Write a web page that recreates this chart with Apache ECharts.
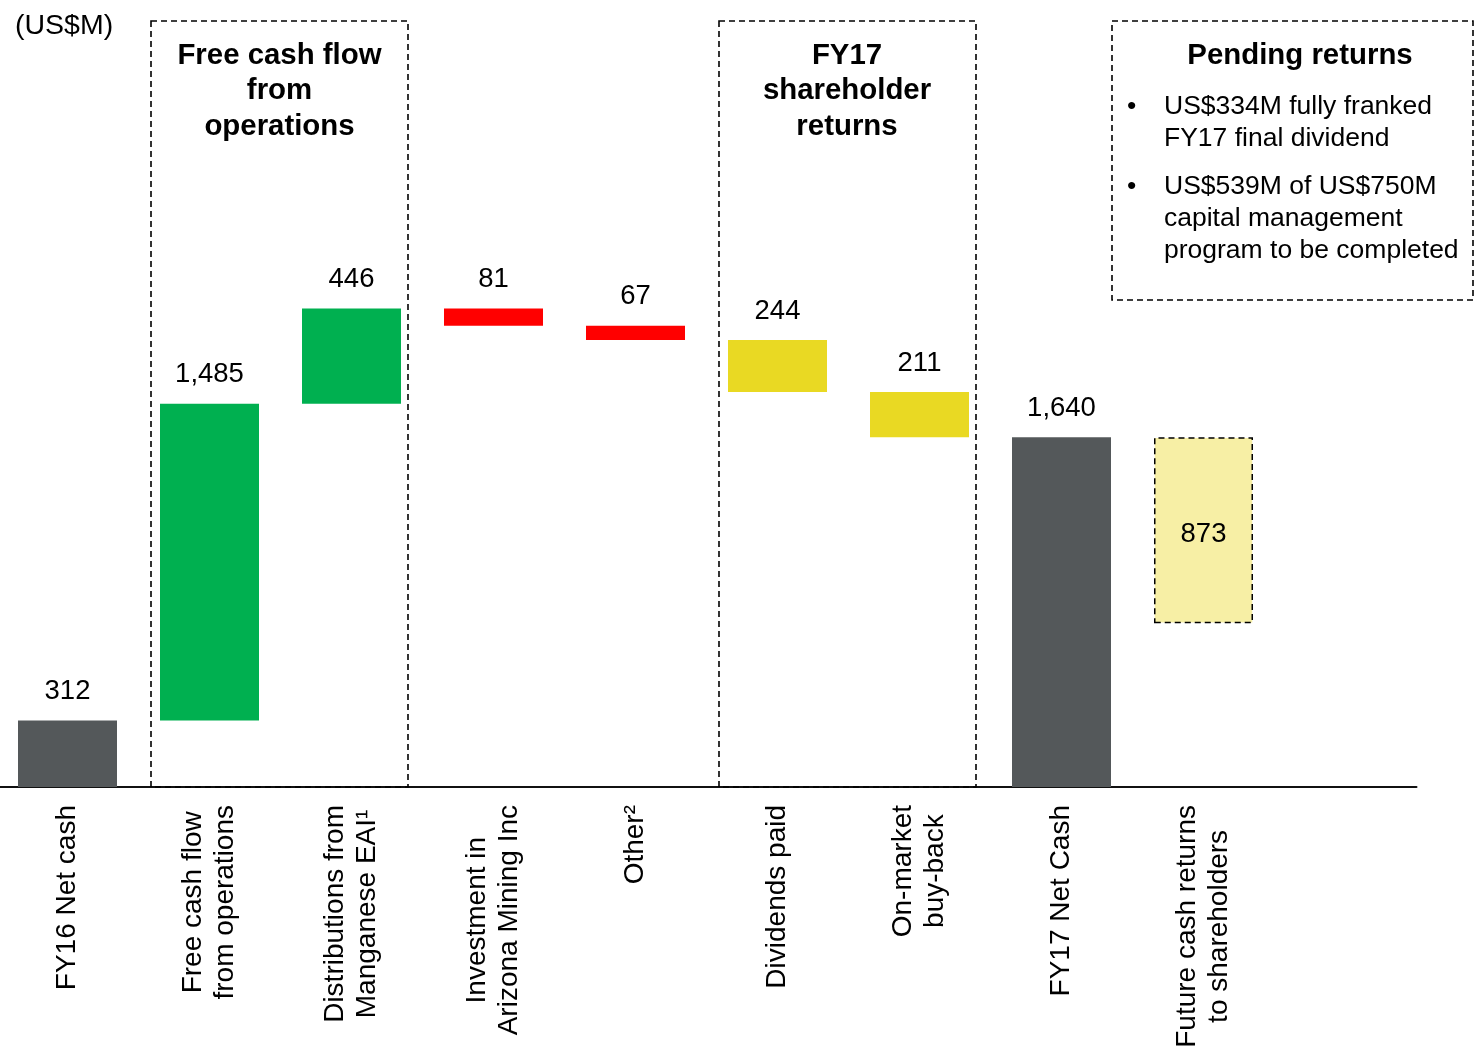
<!DOCTYPE html>
<html>
<head>
<meta charset="utf-8">
<script src="https://cdn.jsdelivr.net/npm/echarts@6/dist/echarts.min.js"></script>
<style>
html,body{margin:0;padding:0;background:#fff;overflow:hidden;}
#chart{position:relative;left:-4px;width:1482px;height:1047px;}
</style>
</head>
<body>
<div id="chart"></div>
<script>
// ---- data ----
const categories = [
  'FY16 Net cash',
  'Free cash flow\nfrom operations',
  'Distributions from\nManganese EAI¹',
  'Investment in\nArizona Mining Inc',
  'Other²',
  'Dividends paid',
  'On-market\nbuy-back',
  'FY17 Net Cash',
  'Future cash returns\nto shareholders',
  ''
];
const changes = [312, 1485, 446, -81, -67, -244, -211, 1640, 873];
const kinds = ['total', 'step', 'step', 'step', 'step', 'step', 'step', 'total', 'pending'];
const groups = ['net', 'fcf', 'fcf', 'other', 'other', 'returns', 'returns', 'net', 'pending'];
const unitLabel = '(US$M)';
const boxTitles = {
  fcf: 'Free cash flow\nfrom\noperations',
  returns: 'FY17\nshareholder\nreturns',
  pending: 'Pending returns'
};
const pendingBullets = [
  'US$334M fully franked\nFY17 final dividend',
  'US$539M of US$750M\ncapital management\nprogram to be completed'
];

// ---- styles ----
const FONT = "'Liberation Sans', Arial, Helvetica, sans-serif";
const SHIFT = 4; // canvas is offset 4px to the left via CSS
const groupColor = {
  net: '#54585A',
  fcf: '#00B050',
  other: '#FF0000',
  returns: '#E9D923',
  pending: '#F7EFA5'
};

// ---- waterfall build ----
const baseVals = [];
const shownVals = [];
let running = 0;
changes.forEach((v, i) => {
  const k = kinds[i];
  if (k === 'total') {
    baseVals.push(0);
    shownVals.push(Math.abs(v));
    running = v;
  } else if (k === 'pending') {
    baseVals.push(running - v);
    shownVals.push(v);
  } else {
    if (v >= 0) { baseVals.push(running); } else { baseVals.push(running + v); }
    shownVals.push(Math.abs(v));
    running += v;
  }
});

const fmt = n => n.toLocaleString('en-US');

const visibleData = shownVals.map((v, i) => {
  const g = groups[i];
  const item = {
    value: v,
    itemStyle: { color: groupColor[g] }
  };
  if (kinds[i] === 'pending') {
    item.itemStyle.borderColor = '#000';
    item.itemStyle.borderWidth = 1.5;
    item.itemStyle.borderType = [6, 4];
    item.label = { position: 'inside', distance: 0, offset: [0, 4] };
  }
  return item;
});

const chart = echarts.init(document.getElementById('chart'), null, { renderer: 'canvas' });

const dash = [6, 4];
function box(x, y, w, h) {
  return {
    type: 'rect',
    shape: { x: x + SHIFT, y: y, width: w, height: h },
    style: { fill: 'none', stroke: '#000', lineWidth: 1.6, lineDash: dash },
    z: 1
  };
}
function txt(x, y, text, opts) {
  return {
    type: 'text',
    x: x + SHIFT, y: y,
    style: Object.assign({
      text: text,
      font: '28px ' + FONT,
      fill: '#000',
      textAlign: 'left',
      textVerticalAlign: 'top'
    }, opts || {}),
    z: 5
  };
}

const option = {
  animation: false,
  backgroundColor: '#fff',
  grid: { left: 0.5, width: 1420, top: 19, bottom: 260, containLabel: false, outerBoundsMode: 'none' },
  xAxis: {
    type: 'category',
    data: categories,
    axisLine: { show: true, lineStyle: { color: '#111', width: 2 } },
    axisTick: { show: false },
    splitLine: { show: false },
    axisLabel: {
      interval: 0,
      rotate: 90,
      margin: 18,
      color: '#000',
      fontFamily: FONT,
      fontSize: 28,
      lineHeight: 32,
      formatter: v => v ? v.split('\n').map(s => '{c|' + s + '}').join('\n') : '',
      rich: {
        c: { align: 'center', fontSize: 28, lineHeight: 32, fontFamily: FONT, color: '#000' }
      }
    }
  },
  yAxis: {
    type: 'value',
    min: 0,
    max: 3600,
    show: false,
    splitLine: { show: false }
  },
  series: [
    {
      name: 'base',
      type: 'bar',
      stack: 'wf',
      barWidth: 99,
      silent: true,
      itemStyle: { color: 'transparent' },
      data: baseVals
    },
    {
      name: 'change',
      type: 'bar',
      stack: 'wf',
      barWidth: 99,
      z: 3,
      label: {
        show: true,
        position: 'top',
        distance: 15,
        color: '#000',
        fontFamily: FONT,
        fontSize: 27.5,
        formatter: p => fmt(p.value)
      },
      data: visibleData
    }
  ],
  graphic: [
    txt(15, 12, unitLabel, { font: '28.5px ' + FONT }),
    box(151, 21, 257, 766),
    box(719, 21, 257, 766),
    box(1112, 21, 361, 279),
    txt(279.5, 38, boxTitles.fcf, { font: 'bold 29.4px ' + FONT, textAlign: 'center', lineHeight: 35.5 }),
    txt(847, 38, boxTitles.returns, { font: 'bold 29.4px ' + FONT, textAlign: 'center', lineHeight: 35.5 }),
    txt(1300, 38, boxTitles.pending, { font: 'bold 29.4px ' + FONT, textAlign: 'center', lineHeight: 36 }),
    txt(1127, 91, '•', { font: '26.5px ' + FONT, lineHeight: 32 }),
    txt(1164, 91, pendingBullets[0], { font: '26.5px ' + FONT, lineHeight: 32 }),
    txt(1127, 171, '•', { font: '26.5px ' + FONT, lineHeight: 32 }),
    txt(1164, 171, pendingBullets[1], { font: '26.5px ' + FONT, lineHeight: 32 })
  ]
};

chart.setOption(option);
</script>
</body>
</html>
